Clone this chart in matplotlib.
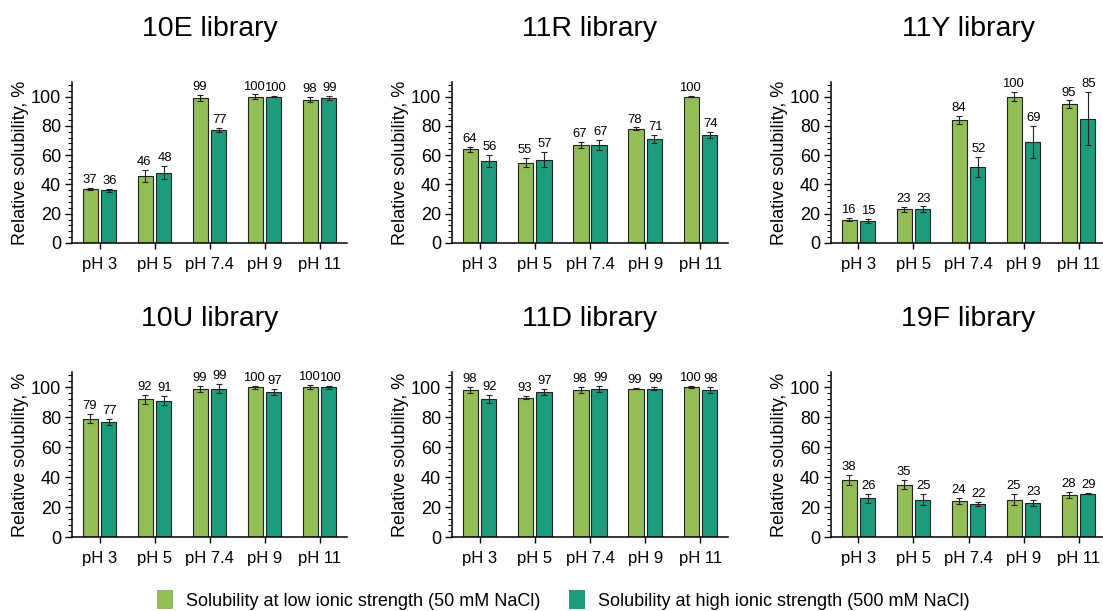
import numpy as np
import matplotlib
matplotlib.use("Agg")
import matplotlib.pyplot as plt
from matplotlib.ticker import MultipleLocator
from matplotlib.patches import Patch

plt.rcParams["font.family"] = ["Liberation Sans", "DejaVu Sans"]

# pH conditions
ph_labels = ["pH 3", "pH 5", "pH 7.4", "pH 9", "pH 11"]

libraries = ["10E library", "11R library", "11Y library",
             "10U library", "11D library", "19F library"]

# solubility at 50 mM NaCl
low_10E = [37, 46, 99, 100, 98]
low_11R = [64, 55, 67, 78, 100]
low_11Y = [16, 23, 84, 100, 95]
low_10U = [79, 92, 99, 100, 100]
low_11D = [98, 93, 98, 99, 100]
low_19F = [38, 35, 24, 25, 28]

# solubility at 500 mM NaCl
high_10E = [36, 48, 77, 100, 99]
high_11R = [56, 57, 67, 71, 74]
high_11Y = [15, 23, 52, 69, 85]
high_10U = [77, 91, 99, 97, 100]
high_11D = [92, 97, 99, 99, 98]
high_19F = [26, 25, 22, 23, 29]

# standard deviations
low_err_10E = [0.5, 4, 2, 1.5, 2]
low_err_11R = [1.5, 3, 2, 1, 0.5]
low_err_11Y = [1, 1.5, 3, 3, 2.5]
low_err_10U = [3, 3, 2, 1, 1.5]
low_err_11D = [2, 1, 2, 0.5, 0.5]
low_err_19F = [3.5, 3, 2, 3.5, 2]

high_err_10E = [1, 4.5, 1.5, 0.5, 1.5]
high_err_11R = [4, 5, 3.5, 3, 2]
high_err_11Y = [1.5, 2, 7, 11, 18]
high_err_10U = [2, 3, 3, 2, 1]
high_err_11D = [2.5, 2, 2, 1, 2]
high_err_19F = [3, 3.5, 1.5, 2, 0.5]

low_all = [low_10E, low_11R, low_11Y, low_10U, low_11D, low_19F]
high_all = [high_10E, high_11R, high_11Y, high_10U, high_11D, high_19F]
low_err_all = [low_err_10E, low_err_11R, low_err_11Y, low_err_10U, low_err_11D, low_err_19F]
high_err_all = [high_err_10E, high_err_11R, high_err_11Y, high_err_10U, high_err_11D, high_err_19F]

c_low = "#93bd57"
c_high = "#1c9c7c"

W, H = 1103, 611
fig = plt.figure(figsize=(W / 100, H / 100), dpi=100)

# axes boxes in pixels
lefts = [72, 452, 831]
rights = [347, 728, 1106]
tops = [82, 372]
bottoms = [243, 537]

x = np.arange(len(ph_labels))
bw = 0.28
off = 0.165
ekw = dict(elinewidth=0.8, capsize=2, capthick=0.8, ecolor="#222222")

for i in range(6):
    r, c = divmod(i, 3)
    l, rt = lefts[c], rights[c]
    t, b = tops[r], bottoms[r]
    ax = fig.add_axes([l / W, 1 - b / H, (rt - l) / W, (b - t) / H])

    ax.bar(x - off, low_all[i], bw, color=c_low, edgecolor="#222222", linewidth=0.8,
           yerr=low_err_all[i], error_kw=ekw)
    ax.bar(x + off, high_all[i], bw, color=c_high, edgecolor="#222222", linewidth=0.8,
           yerr=high_err_all[i], error_kw=ekw)

    # value labels above error bars, nudged apart a little
    for xi, v, e in zip(x, low_all[i], low_err_all[i]):
        ax.text(xi - off - 0.02, v + e + 1.2, str(v), ha="center", va="bottom", fontsize=9.4)
    for xi, v, e in zip(x, high_all[i], high_err_all[i]):
        ax.text(xi + off + 0.02, v + e + 1.2, str(v), ha="center", va="bottom", fontsize=9.4)

    ax.set_xlim(-0.5, 4.5)
    ax.set_ylim(0, 110)
    ax.set_xticks(x)
    ax.set_xticklabels(ph_labels, fontsize=12)
    ax.yaxis.set_minor_locator(MultipleLocator(4))
    ax.set_yticks(range(0, 101, 20))
    ax.tick_params(axis="y", which="major", labelsize=13, length=5, width=1, pad=3)
    ax.tick_params(axis="y", which="minor", length=3, width=0.8)
    ax.tick_params(axis="x", length=4, width=1, pad=6)
    for s in ["top", "right"]:
        ax.spines[s].set_visible(False)
    for s in ["left", "bottom"]:
        ax.spines[s].set_linewidth(1.1)
    ax.set_ylabel("Relative solubility, %", fontsize=13, labelpad=1)
    ax.set_title(libraries[i], fontsize=20.5, pad=33)

handles = [Patch(facecolor=c_low, edgecolor="none"),
           Patch(facecolor=c_high, edgecolor="none")]
fig.legend(handles,
           ["Solubility at low ionic strength (50 mM NaCl)",
            "Solubility at high ionic strength (500 mM NaCl)"],
           loc="center", bbox_to_anchor=(563 / W, 1 - 600 / H), ncol=2,
           frameon=False, fontsize=13, handlelength=0.9, handleheight=1.2,
           columnspacing=1.6, handletextpad=0.7)

fig.savefig("out.png", dpi=100)
